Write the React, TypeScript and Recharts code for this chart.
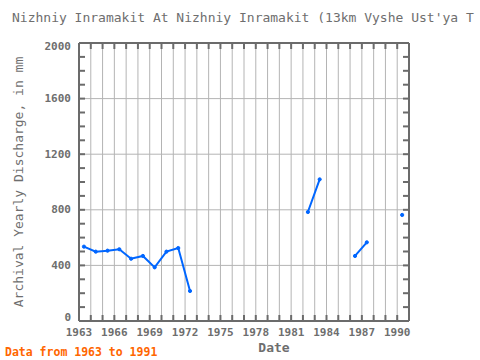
import React from 'react';
import { LineChart, Line, XAxis, YAxis, CartesianGrid } from 'recharts';

const dates = [
  1963.42, 1964.42, 1965.42, 1966.42, 1967.42, 1968.42, 1969.42, 1970.42, 1971.42, 1972.42,
  1973.42, 1974.42, 1975.42, 1976.42, 1977.42, 1978.42, 1979.42, 1980.42, 1981.42,
  1982.42, 1983.42, 1984.42, 1985.42, 1986.42, 1987.42, 1988.42, 1989.42, 1990.42,
];
const discharge: (number | null)[] = [
  535, 499, 506, 516, 448, 468, 386, 499, 525, 216,
  null, null, null, null, null, null, null, null, null,
  784, 1019, null, null, 468, 566, null, null, 763,
];
const xMajorTicks = [1963, 1966, 1969, 1972, 1975, 1978, 1981, 1984, 1987, 1990];
const xMinorTicks = [
  1963, 1964, 1965, 1966, 1967, 1968, 1969, 1970, 1971, 1972, 1973, 1974, 1975, 1976, 1977,
  1978, 1979, 1980, 1981, 1982, 1983, 1984, 1985, 1986, 1987, 1988, 1989, 1990, 1991,
];
const yMajorTicks = [0, 400, 800, 1200, 1600, 2000];
const yMinorTicks = [
  0, 100, 200, 300, 400, 500, 600, 700, 800, 900, 1000, 1100, 1200, 1300, 1400, 1500, 1600,
  1700, 1800, 1900, 2000,
];

const data = dates.map((d, i) => ({ date: d, value: discharge[i] }));

const FRAME = '#6b6b6b';
const GRID = '#b4b4b4';
const TEXT = '#6e6e6e';
const MONO = '"DejaVu Sans Mono", monospace';
const tickStyle = { fontFamily: MONO, fontSize: 11, fontWeight: 'bold', fill: TEXT };
const frameLine = { stroke: FRAME, strokeWidth: 2 };
const minorTickLine = { stroke: FRAME, strokeWidth: 2 };

const EmptyTick = () => <g />;

const YTick = (props: any) => {
  const { x, y, payload } = props;
  let dy = 0;
  if (payload.value === 0) dy = -4;
  if (payload.value === 2000) dy = 3;
  return (
    <text
      x={x}
      y={y + dy}
      textAnchor="end"
      dominantBaseline="central"
      fontFamily={MONO}
      fontSize={11}
      fontWeight="bold"
      fill={TEXT}
    >
      {payload.value}
    </text>
  );
};

export default function App() {
  return (
    <div style={{ position: 'absolute', left: 0, top: 0, width: 480, height: 360, background: '#fff' }}>
      <LineChart
        width={480}
        height={360}
        data={data}
        margin={{ top: 43, right: 71, bottom: 9, left: 0 }}
      >
        <CartesianGrid xAxisId="minorB" yAxisId="main" stroke={GRID} strokeWidth={1} />
        <XAxis
          xAxisId="main"
          dataKey="date"
          type="number"
          domain={[1963, 1991]}
          ticks={xMajorTicks}
          allowDataOverflow
          orientation="bottom"
          height={30}
          tickLine={false}
          tickSize={0}
          tickMargin={7}
          axisLine={frameLine}
          tick={tickStyle}
          interval={0}
        />
        <XAxis
          xAxisId="minorB"
          dataKey="date"
          type="number"
          domain={[1963, 1991]}
          ticks={xMinorTicks}
          allowDataOverflow
          orientation="bottom"
          mirror
          tick={<EmptyTick />}
          tickLine={minorTickLine}
          tickSize={6}
          axisLine={frameLine}
          interval={0}
        />
        <XAxis
          xAxisId="minorT"
          dataKey="date"
          type="number"
          domain={[1963, 1991]}
          ticks={xMinorTicks}
          allowDataOverflow
          orientation="top"
          mirror
          tick={<EmptyTick />}
          tickLine={minorTickLine}
          tickSize={6}
          axisLine={frameLine}
          interval={0}
        />
        <YAxis
          yAxisId="main"
          type="number"
          domain={[0, 2000]}
          ticks={yMajorTicks}
          allowDataOverflow
          orientation="left"
          width={79}
          tickLine={false}
          tickSize={0}
          tickMargin={8}
          axisLine={frameLine}
          tick={<YTick />}
          interval={0}
        />
        <YAxis
          yAxisId="minorL"
          type="number"
          domain={[0, 2000]}
          ticks={yMinorTicks}
          allowDataOverflow
          orientation="left"
          mirror
          tick={<EmptyTick />}
          tickLine={minorTickLine}
          tickSize={6}
          axisLine={frameLine}
          interval={0}
        />
        <YAxis
          yAxisId="minorR"
          type="number"
          domain={[0, 2000]}
          ticks={yMinorTicks}
          allowDataOverflow
          orientation="right"
          mirror
          tick={<EmptyTick />}
          tickLine={minorTickLine}
          tickSize={6}
          axisLine={frameLine}
          interval={0}
        />
        <Line
          xAxisId="main"
          yAxisId="main"
          type="linear"
          dataKey="value"
          stroke="#0066ff"
          strokeWidth={2}
          dot={{ r: 1.6, fill: '#0066ff', stroke: '#0066ff', strokeWidth: 1 }}
          connectNulls={false}
          isAnimationActive={false}
        />
      </LineChart>
      <svg
        width={480}
        height={360}
        style={{ position: 'absolute', left: 0, top: 0, pointerEvents: 'none' }}
      >
        <text x={12} y={22} fontFamily={MONO} fontSize={13} fill={TEXT}>
          Nizhniy Inramakit At Nizhniy Inramakit (13km Vyshe Ust'ya T
        </text>
        <text
          x={18}
          y={182}
          transform="rotate(-90 18 182)"
          textAnchor="middle"
          dominantBaseline="central"
          fontFamily={MONO}
          fontSize={13}
          fill={TEXT}
        >
          Archival Yearly Discharge, in mm
        </text>
        <text x={274} y={352} textAnchor="middle" fontFamily={MONO} fontSize={13} fontWeight="bold" fill={TEXT}>
          Date
        </text>
        <text x={5} y={356} fontFamily={MONO} fontSize={11.5} fontWeight="bold" fill="#ff6600">
          Data from 1963 to 1991
        </text>
      </svg>
    </div>
  );
}
